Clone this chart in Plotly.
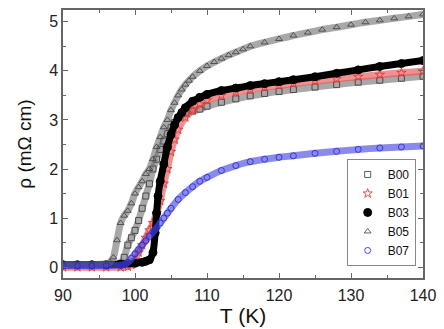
import plotly.graph_objects as go

# ---- data ----
t_b00 = [90, 92, 94, 96, 97, 98, 98.5, 99, 99.5, 100, 100.5, 101, 101.5, 102, 102.5, 103, 103.5, 104, 104.5,
         105, 105.5, 106, 107, 108, 109, 110, 112, 114, 116, 118, 120, 122, 125, 128, 131, 134, 137, 140]
r_b00 = [0.04, 0.04, 0.04, 0.05, 0.06, 0.08, 0.2, 0.45, 0.6, 0.75, 0.95, 1.2, 1.45, 1.7, 2.0, 2.2, 2.4, 2.57, 2.72,
         2.85, 2.95, 3.05, 3.13, 3.18, 3.22, 3.28, 3.36, 3.43, 3.49, 3.54, 3.58, 3.62, 3.67, 3.72, 3.77, 3.81, 3.85, 3.89]

t_b01 = [90, 92, 94, 96, 98, 99, 99.5, 100, 100.5, 101, 101.5, 102, 102.5, 103, 103.5, 104, 104.5, 105, 105.5,
         106, 107, 108, 109, 110, 112, 114, 116, 118, 120, 122, 125, 128, 131, 134, 137, 140]
r_b01 = [0.0, 0.0, 0.0, 0.0, 0.0, 0.01, 0.05, 0.15, 0.3, 0.45, 0.6, 0.75, 0.9, 1.1, 1.35, 1.7, 2.0, 2.35, 2.6,
         2.8, 3.05, 3.2, 3.32, 3.4, 3.5, 3.57, 3.62, 3.67, 3.7, 3.74, 3.79, 3.84, 3.88, 3.92, 3.96, 3.99]

t_b03 = [90, 92, 94, 96, 98, 100, 101, 101.5, 102, 102.5, 102.8, 103, 103.2, 103.5, 104, 104.5, 105, 105.5, 106,
         106.5, 107, 108, 109, 110, 112, 114, 116, 118, 120, 122, 125, 128, 131, 134, 137, 140]
r_b03 = [0.05, 0.05, 0.05, 0.05, 0.06, 0.08, 0.1, 0.12, 0.15, 0.3, 0.7, 1.1, 1.45, 1.75, 2.1, 2.45, 2.7, 2.9, 3.05,
         3.15, 3.25, 3.38, 3.46, 3.52, 3.6, 3.65, 3.7, 3.74, 3.78, 3.82, 3.88, 3.95, 4.02, 4.09, 4.15, 4.21]

t_b05 = [90, 92, 94, 96, 96.5, 97, 97.5, 98, 98.5, 99, 99.5, 100, 100.5, 101, 101.5, 102, 102.5, 103, 103.5, 104,
         104.5, 105, 105.5, 106, 106.5, 107, 107.5, 108, 109, 110, 111, 112, 113, 114, 115, 116, 118, 120, 122,
         124, 126, 128, 130, 132, 134, 136, 138, 140]
r_b05 = [0.05, 0.05, 0.05, 0.07, 0.1, 0.2, 0.55, 0.9, 1.05, 1.15, 1.3, 1.5, 1.63, 1.75, 1.9, 2.0, 2.2, 2.45, 2.65, 2.85,
         3.0, 3.2, 3.35, 3.5, 3.62, 3.72, 3.8, 3.88, 4.0, 4.1, 4.18, 4.25, 4.32, 4.38, 4.44, 4.5, 4.58, 4.65, 4.72,
         4.78, 4.84, 4.89, 4.94, 4.99, 5.03, 5.07, 5.11, 5.15]

t_b07 = [90, 92, 94, 96, 98, 98.5, 99, 99.5, 100, 100.5, 101, 101.5, 102, 102.5, 103, 103.5, 104, 104.5, 105,
         106, 107, 108, 109, 110, 112, 114, 116, 118, 120, 122, 125, 128, 131, 134, 137, 140]
r_b07 = [0.03, 0.03, 0.03, 0.03, 0.04, 0.05, 0.1, 0.18, 0.27, 0.36, 0.45, 0.54, 0.63, 0.72, 0.8, 0.9, 1.0, 1.1, 1.2,
         1.38, 1.52, 1.64, 1.75, 1.83, 1.97, 2.07, 2.15, 2.2, 2.24, 2.27, 2.32, 2.36, 2.4, 2.43, 2.45, 2.47]

names = ["B00", "B01", "B03", "B05", "B07"]
x_ticks = [90, 100, 110, 120, 130, 140]
y_ticks = [0, 1, 2, 3, 4, 5]

series = [
    (names[0], t_b00, r_b00, "square-open", "rgba(50,50,50,0.8)", "rgba(110,110,110,0.6)", 6),
    (names[1], t_b01, r_b01, "star-open", "rgba(225,50,50,0.85)", "rgba(235,85,85,0.65)", 7),
    (names[2], t_b03, r_b03, "circle", "black", "black", 8),
    (names[3], t_b05, r_b05, "triangle-up-open", "rgba(60,60,60,0.8)", "rgba(110,110,110,0.6)", 6),
    (names[4], t_b07, r_b07, "circle-open", "rgba(40,40,215,0.85)", "rgba(75,75,225,0.65)", 6),
]

fig = go.Figure()
for name, t, r, sym, mcol, lcol, size in series:
    fig.add_trace(go.Scatter(x=t, y=r, mode="lines", line=dict(color=lcol, width=7, shape="spline", smoothing=0.6),
                             showlegend=False, hoverinfo="skip"))
    fig.add_trace(go.Scatter(x=t, y=r, mode="markers", name=name,
                             marker=dict(symbol=sym, color=mcol, size=size, line=dict(width=1, color=mcol))))

axis_common = dict(showline=True, linecolor="#666", linewidth=1.5, mirror="allticks", ticks="inside",
                   ticklen=5, tickcolor="#666", showgrid=False, zeroline=False,
                   tickfont=dict(family="Liberation Sans, Arial", size=16, color="#222"))

fig.update_xaxes(range=[90, 140], tickvals=x_ticks, ticktext=[str(v) for v in x_ticks],
                 minor=dict(dtick=5, ticks="inside", ticklen=3, tickcolor="#666"),
                 ticklabeloverflow="allow", ticklabelstandoff=2,
                 title=dict(text="T (K)", font=dict(family="Liberation Sans, Arial", size=21, color="#111"), standoff=2),
                 **axis_common)
fig.update_yaxes(range=[-0.22, 5.24], tickvals=y_ticks, ticktext=[str(v) for v in y_ticks],
                 minor=dict(dtick=0.5, ticks="inside", ticklen=3, tickcolor="#666"),
                 title=dict(text="ρ (mΩ cm)", font=dict(family="Liberation Sans, Arial", size=19, color="#111"), standoff=12),
                 **axis_common)

fig.update_layout(
    width=444, height=329,
    margin=dict(l=63, r=13, t=8, b=51),
    paper_bgcolor="white", plot_bgcolor="white",
    legend=dict(x=0.788, y=0.045, xanchor="left", yanchor="bottom", bgcolor="white",
                bordercolor="#888", borderwidth=1, font=dict(family="Liberation Sans, Arial", size=12, color="#111"),
                itemsizing="trace", itemwidth=30, tracegroupgap=0),
)

fig.write_html("out.html", config={"displayModeBar": False},
               post_script="document.body.style.margin='0';document.body.style.overflow='hidden';")
